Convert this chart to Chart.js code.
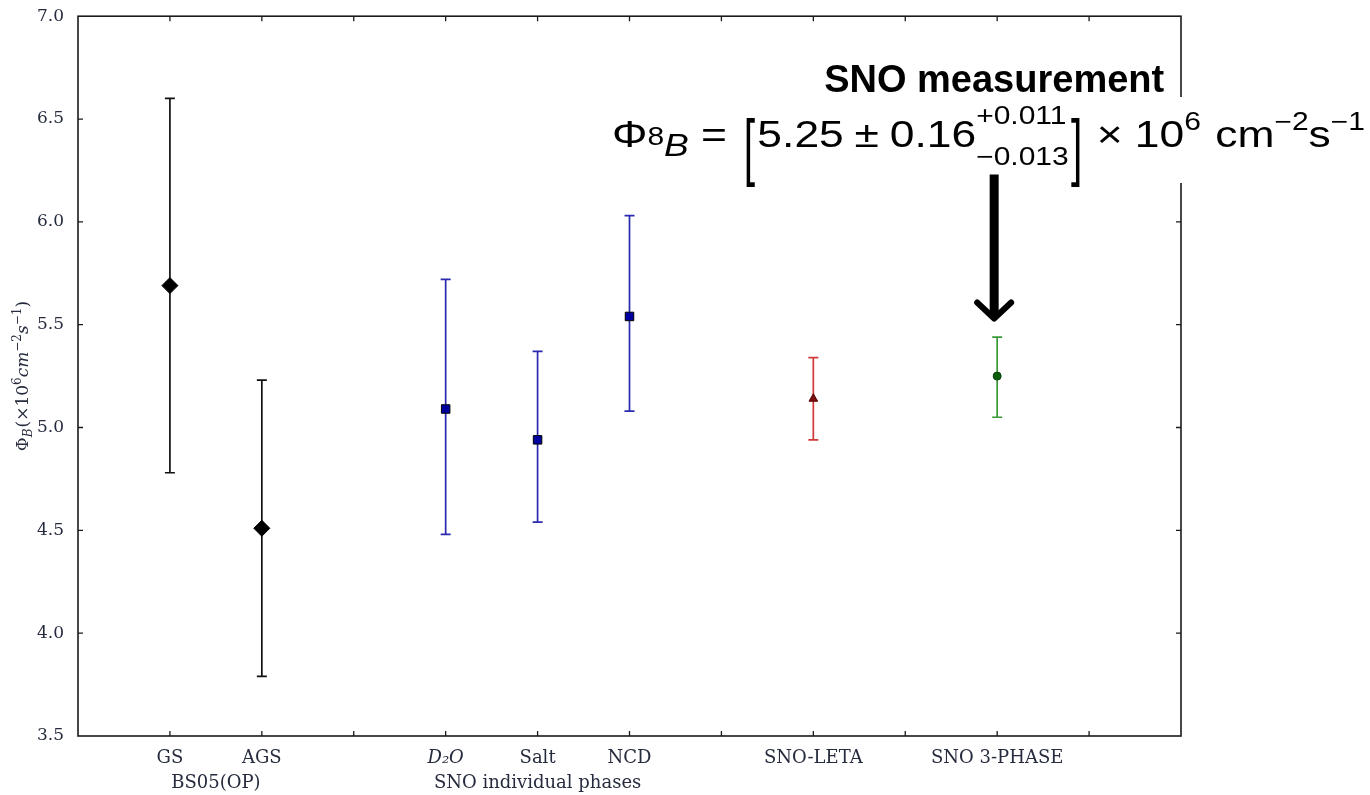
<!DOCTYPE html>
<html>
<head>
<meta charset="utf-8">
<script src="https://cdn.jsdelivr.net/npm/chart.js@4.4.1/dist/chart.umd.min.js"></script>
<style>
  html, body { margin: 0; padding: 0; background: #fff; }
  #wrap { width: 1370px; height: 795px; }
</style>
</head>
<body>
<div id="wrap"><canvas id="fluxChart" width="1370" height="795"></canvas></div>
<script>
// categorias do eixo x (slots vazios separam os grupos)
const categories = ['', 'GS', 'AGS', '', 'D₂O', 'Salt', 'NCD', '', 'SNO-LETA', '', 'SNO 3-PHASE', '', ''];
const groupLabels = ['BS05(OP)', 'SNO individual phases'];
const groupMembers = [['GS', 'AGS'], ['D₂O', 'Salt', 'NCD']];

// previsoes do modelo solar BS05(OP)
const modelLabels = ['GS', 'AGS'];
const modelFlux = [5.69, 4.51];
const modelHigh = [6.60, 5.23];
const modelLow = [4.78, 3.79];

// fases individuais do SNO
const phaseLabels = ['D₂O', 'Salt', 'NCD'];
const phaseFlux = [5.09, 4.94, 5.54];
const phaseHigh = [5.72, 5.37, 6.03];
const phaseLow = [4.48, 4.54, 5.08];

const letaLabels = ['SNO-LETA'];
const letaFlux = [5.14];
const letaHigh = [5.34];
const letaLow = [4.94];

const threePhaseLabels = ['SNO 3-PHASE'];
const threePhaseFlux = [5.25];
const threePhaseHigh = [5.44];
const threePhaseLow = [5.05];

// seta da anotacao (valores no eixo y)
const arrowFrom = 6.23;
const arrowTo = 5.53;

const textColor = '#262c3e';
const serif = '"DejaVu Serif", "Liberation Serif", serif';
const sans = '"Liberation Sans", Arial, sans-serif';

function makeSet(labels, flux, high, low, opts) {
    return Object.assign({
        data: labels.map((l, i) => ({ x: l, y: flux[i] })),
        errHigh: high,
        errLow: low,
        showLine: false,
        borderWidth: 1,
        pointBorderColor: '#000'
    }, opts);
}

const datasets = [
    makeSet(modelLabels, modelFlux, modelHigh, modelLow, {
        barColor: '#111', pointStyle: 'rectRot', pointRadius: 8, pointBackgroundColor: '#000'
    }),
    makeSet(phaseLabels, phaseFlux, phaseHigh, phaseLow, {
        barColor: '#2a2ab0', pointStyle: 'rect', pointRadius: 6, pointBackgroundColor: '#0000a0'
    }),
    makeSet(letaLabels, letaFlux, letaHigh, letaLow, {
        barColor: '#d03a3a', pointStyle: 'triangle', pointRadius: 5, pointBackgroundColor: '#7a1010', pointBorderColor: '#5a0000'
    }),
    makeSet(threePhaseLabels, threePhaseFlux, threePhaseHigh, threePhaseLow, {
        barColor: '#3a9a3a', pointStyle: 'circle', pointRadius: 4, pointBackgroundColor: '#0b5e0b', pointBorderColor: '#064006'
    })
];

// desenha texto com partes de tamanhos/deslocamentos diferentes
function runsWidth(ctx, runs) {
    let w = 0;
    runs.forEach(r => {
        ctx.font = r.font;
        if (r.stack) {
            w += Math.max(ctx.measureText(r.stack[0]).width, ctx.measureText(r.stack[1]).width);
        } else {
            w += ctx.measureText(r.t).width;
        }
        w += (r.gap || 0);
    });
    return w;
}

function drawRuns(ctx, runs, x, y) {
    let cx = x;
    runs.forEach(r => {
        ctx.font = r.font;
        if (r.stack) {
            const w = Math.max(ctx.measureText(r.stack[0]).width, ctx.measureText(r.stack[1]).width);
            ctx.fillText(r.stack[0], cx, y + r.dyTop);
            ctx.fillText(r.stack[1], cx, y + r.dyBottom);
            cx += w;
        } else if (r.stretch) {
            const w = ctx.measureText(r.t).width;
            ctx.save();
            ctx.translate(cx, y + r.dy);
            ctx.scale(1, r.stretch);
            ctx.fillText(r.t, 0, 0);
            ctx.restore();
            cx += w;
        } else {
            ctx.fillText(r.t, cx, y + (r.dy || 0));
            cx += ctx.measureText(r.t).width;
        }
        cx += (r.gap || 0);
    });
}

const errorBarPlugin = {
    id: 'errorBars',
    beforeDatasetsDraw(chart) {
        const ctx = chart.ctx;
        const y = chart.scales.y;
        chart.data.datasets.forEach((ds, di) => {
            const meta = chart.getDatasetMeta(di);
            meta.data.forEach((pt, i) => {
                const top = y.getPixelForValue(ds.errHigh[i]);
                const bot = y.getPixelForValue(ds.errLow[i]);
                ctx.save();
                ctx.strokeStyle = ds.barColor;
                ctx.lineWidth = 1.7;
                ctx.beginPath();
                ctx.moveTo(pt.x, top); ctx.lineTo(pt.x, bot);
                ctx.moveTo(pt.x - 5, top); ctx.lineTo(pt.x + 5, top);
                ctx.moveTo(pt.x - 5, bot); ctx.lineTo(pt.x + 5, bot);
                ctx.stroke();
                ctx.restore();
            });
        });
    }
};

const framePlugin = {
    id: 'frameAndNotes',
    afterDraw(chart) {
        const ctx = chart.ctx;
        const a = chart.chartArea;
        const xs = chart.scales.x;
        const ys = chart.scales.y;
        ctx.save();

        // caixa do grafico
        ctx.strokeStyle = '#1a1a1a';
        ctx.lineWidth = 1.6;
        ctx.strokeRect(a.left, a.top, a.right - a.left, a.bottom - a.top);

        // marcas internas nos quatro lados
        ctx.lineWidth = 1.3;
        ctx.beginPath();
        for (let i = 1; i < categories.length - 1; i++) {
            const px = xs.getPixelForValue(i);
            ctx.moveTo(px, a.bottom); ctx.lineTo(px, a.bottom - 5);
            ctx.moveTo(px, a.top); ctx.lineTo(px, a.top + 5);
        }
        ys.ticks.forEach(t => {
            if (t.value <= ys.min || t.value >= ys.max) return;
            const py = ys.getPixelForValue(t.value);
            ctx.moveTo(a.left, py); ctx.lineTo(a.left + 5, py);
            ctx.moveTo(a.right, py); ctx.lineTo(a.right - 5, py);
        });
        ctx.stroke();

        // rotulos dos grupos
        ctx.fillStyle = textColor;
        ctx.font = '18px ' + serif;
        ctx.textAlign = 'center';
        ctx.textBaseline = 'alphabetic';
        groupLabels.forEach((g, gi) => {
            const idx = groupMembers[gi].map(m => categories.indexOf(m));
            const mid = (Math.min(...idx) + Math.max(...idx)) / 2;
            ctx.fillText(g, xs.getPixelForValue(mid), 788);
        });

        // titulo do eixo y
        ctx.textAlign = 'left';
        const yRuns = [
            { t: 'Φ', font: '17px ' + serif },
            { t: 'B', font: 'italic 12px ' + serif, dy: 4, gap: 1 },
            { t: '(×10', font: '17px ' + serif },
            { t: '6', font: '12px ' + serif, dy: -7 },
            { t: 'cm', font: 'italic 17px ' + serif },
            { t: '−2', font: '12px ' + serif, dy: -7 },
            { t: 's', font: 'italic 17px ' + serif },
            { t: '−1', font: '12px ' + serif, dy: -7 },
            { t: ')', font: '17px ' + serif }
        ];
        const yw = runsWidth(ctx, yRuns);
        ctx.save();
        ctx.translate(28, (a.top + a.bottom) / 2);
        ctx.rotate(-Math.PI / 2);
        drawRuns(ctx, yRuns, -yw / 2, 0);
        ctx.restore();

        // anotacao da medida do SNO
        const ax = xs.getPixelForValue(categories.indexOf('SNO 3-PHASE'));
        ctx.fillStyle = '#fff';
        ctx.fillRect(600, 97, 770, 86);

        ctx.fillStyle = '#000';
        ctx.font = 'bold 38px ' + sans;
        ctx.textAlign = 'center';
        ctx.fillText('SNO measurement', ax - 3, 92);

        ctx.textAlign = 'left';
        const m = '37px ' + sans;
        const s = '25px ' + sans;
        const fRuns = [
            { t: 'Φ', font: m },
            { t: '8', font: s, dy: -2 },
            { t: 'B', font: 'italic 31px ' + sans, dy: 9, gap: 10 },
            { t: '=', font: m, gap: 14 },
            { t: '[', font: '34px ' + sans, stretch: 2.2, dy: 25, gap: 2 },
            { t: '5.25', font: m, gap: 9 },
            { t: '±', font: m, gap: 9 },
            { t: '0.16', font: m },
            { stack: ['+0.011', '−0.013'], font: s, dyTop: -23, dyBottom: 18, gap: 2 },
            { t: ']', font: '34px ' + sans, stretch: 2.2, dy: 25, gap: 12 },
            { t: '×', font: m, gap: 10 },
            { t: '10', font: m },
            { t: '6', font: s, dy: -17, gap: 12 },
            { t: 'cm', font: m },
            { t: '−2', font: s, dy: -17 },
            { t: 's', font: m },
            { t: '−1', font: s, dy: -17 }
        ];
        const fw = runsWidth(ctx, fRuns);
        const sx = 753 / fw;
        ctx.save();
        ctx.translate(612, 147);
        ctx.scale(sx, 1);
        drawRuns(ctx, fRuns, 0, 0);
        ctx.restore();

        // seta
        const y0 = ys.getPixelForValue(arrowFrom);
        const y1 = ys.getPixelForValue(arrowTo);
        ctx.strokeStyle = '#000';
        ctx.lineWidth = 9;
        ctx.beginPath();
        ctx.moveTo(ax - 3, y0); ctx.lineTo(ax - 3, y1 - 4);
        ctx.stroke();
        ctx.lineWidth = 6;
        ctx.lineCap = 'round';
        ctx.lineJoin = 'round';
        ctx.beginPath();
        ctx.moveTo(ax - 20, y1 - 16);
        ctx.lineTo(ax - 3, y1);
        ctx.lineTo(ax + 14, y1 - 16);
        ctx.stroke();

        ctx.restore();
    }
};

new Chart(document.getElementById('fluxChart'), {
    type: 'line',
    data: { labels: categories, datasets: datasets },
    options: {
        responsive: false,
        animation: false,
        layout: { padding: { top: 16, right: 189, bottom: 0, left: 0 } },
        plugins: { legend: { display: false }, tooltip: { enabled: false } },
        scales: {
            x: {
                type: 'category',
                offset: false,
                grid: { display: false },
                border: { display: false },
                ticks: {
                    autoSkip: false,
                    maxRotation: 0,
                    padding: 4,
                    color: textColor,
                    font: (c) => ({
                        family: serif,
                        size: 18,
                        style: (c.tick && c.tick.label === 'D₂O') ? 'italic' : 'normal'
                    })
                },
                afterFit: (s) => { s.height = 59; }
            },
            y: {
                min: 3.5,
                max: 7.0,
                grid: { display: false },
                border: { display: false },
                ticks: {
                    stepSize: 0.5,
                    padding: 6,
                    color: textColor,
                    font: { family: serif, size: 17 },
                    callback: (v) => Number(v).toFixed(1)
                },
                afterFit: (s) => { s.width = 78; }
            }
        }
    },
    plugins: [errorBarPlugin, framePlugin]
});
</script>
</body>
</html>
